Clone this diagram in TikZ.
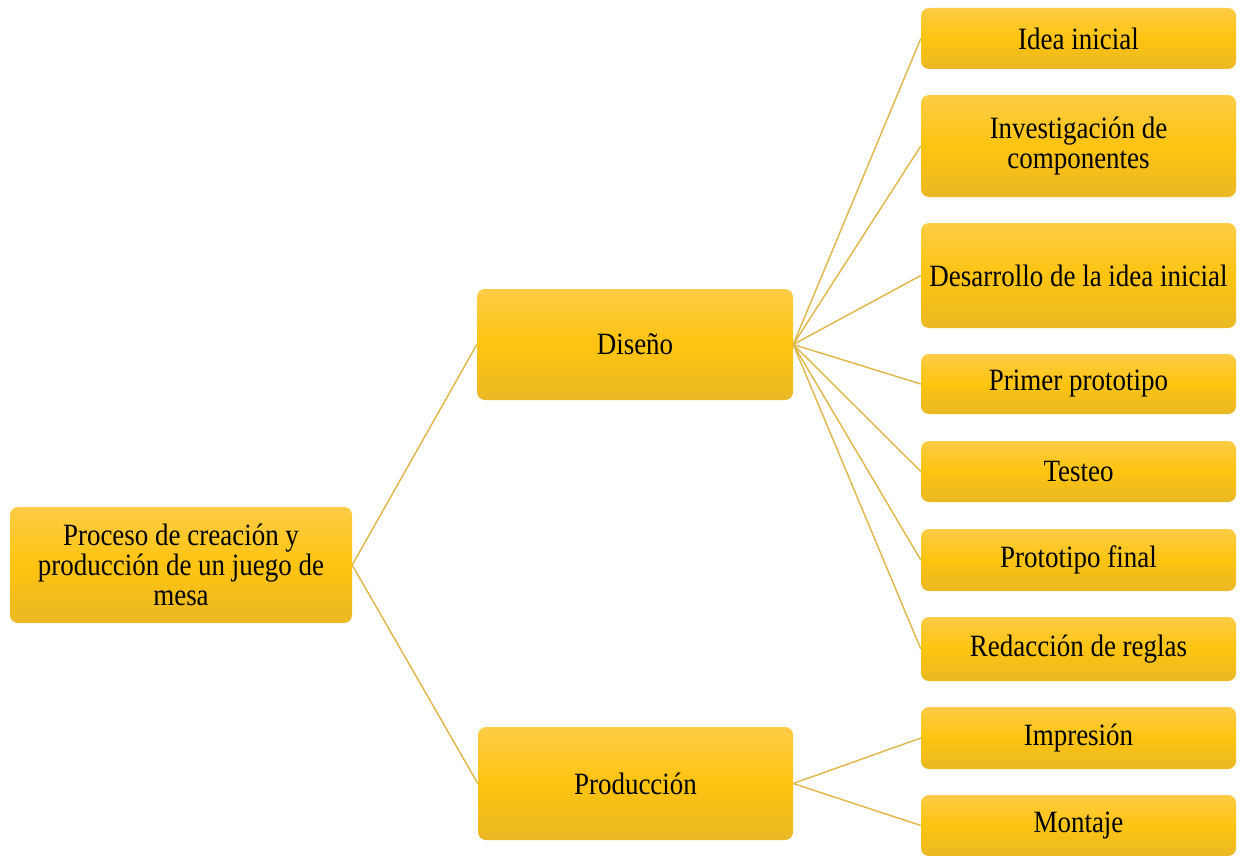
\documentclass[tikz,border=0pt]{standalone}
\usepackage{fontspec}
\setmainfont{Liberation Serif}[FakeStretch=0.87]
\definecolor{boxtop}{RGB}{254,204,70}
\definecolor{boxmid}{RGB}{254,196,16}
\definecolor{boxbot}{RGB}{234,184,36}
\definecolor{linkc}{RGB}{224,182,70}
\tikzset{
  box/.style={rounded corners=8pt, top color=boxtop, bottom color=boxbot, middle color=boxmid,
    font=\fontsize{31}{30}\selectfont, align=center, inner sep=0pt, text=black},
  link/.style={draw=linkc, line width=1.4pt},
}
\begin{document}
\begin{tikzpicture}[x=1pt,y=-1pt]
\useasboundingbox (0,0) rectangle (1244,856);
\fill[white] (0,0) rectangle (1244,856);
% nodes
\node[box, minimum width=342pt, minimum height=116pt] (root) at (181,565) {Proceso de creación y\\producción de un juego de\\mesa};
\node[box, minimum width=316pt, minimum height=111pt] (dis) at (635,344.5) {Diseño};
\node[box, minimum width=315pt, minimum height=113pt] (pro) at (635.5,783.5) {Producción};
\node[box, minimum width=315pt, minimum height=61pt] (c1) at (1078.5,38.5) {Idea inicial};
\node[box, minimum width=315pt, minimum height=102pt] (c2) at (1078.5,146) {Investigación de\\componentes};
\node[box, minimum width=315pt, minimum height=105pt] (c3) at (1078.5,275.5) {Desarrollo de la idea inicial};
\node[box, minimum width=315pt, minimum height=60pt] (c4) at (1078.5,384) {Primer prototipo};
\node[box, minimum width=315pt, minimum height=61pt] (c5) at (1078.5,471.5) {Testeo};
\node[box, minimum width=315pt, minimum height=62pt] (c6) at (1078.5,560) {Prototipo final};
\node[box, minimum width=315pt, minimum height=64pt] (c7) at (1078.5,649) {Redacción de reglas};
\node[box, minimum width=315pt, minimum height=62pt] (p1) at (1078.5,738) {Impresión};
\node[box, minimum width=315pt, minimum height=61pt] (p2) at (1078.5,825.5) {Montaje};
% links
\draw[link] (root.east) -- (dis.west);
\draw[link] (root.east) -- (pro.west);
\foreach \n in {c1,c2,c3,c4,c5,c6,c7} \draw[link] (dis.east) -- (\n.west);
\foreach \n in {p1,p2} \draw[link] (pro.east) -- (\n.west);
\end{tikzpicture}
\end{document}
